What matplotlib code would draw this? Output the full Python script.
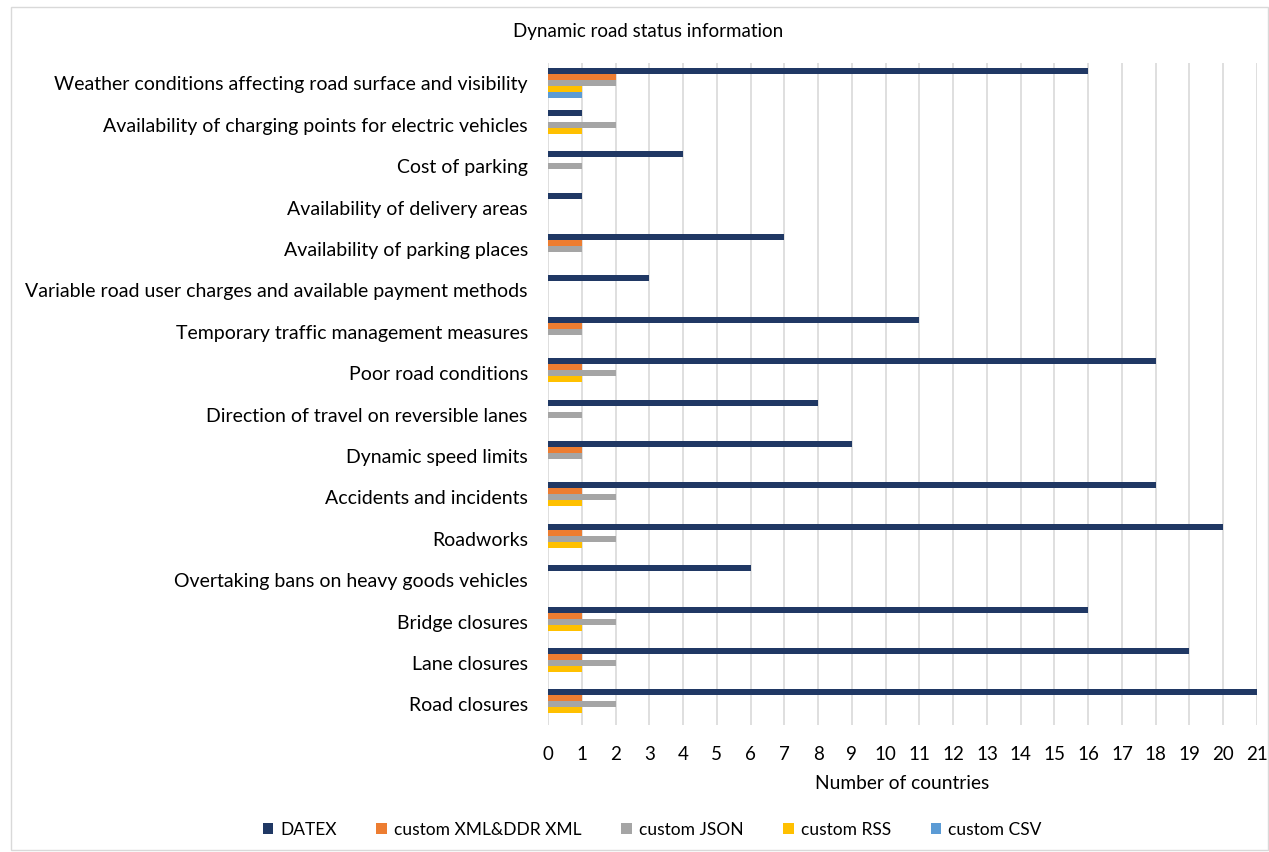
import numpy as np
import matplotlib
matplotlib.use("Agg")
import matplotlib.pyplot as plt
from matplotlib.patches import Rectangle

plt.rcParams['font.family'] = ['Lato', 'DejaVu Sans']

# categories, bottom to top as drawn
categories = [
    "Road closures",
    "Lane closures",
    "Bridge closures",
    "Overtaking bans on heavy goods vehicles",
    "Roadworks",
    "Accidents and incidents",
    "Dynamic speed limits",
    "Direction of travel on reversible lanes",
    "Poor road conditions",
    "Temporary traffic management measures",
    "Variable road user charges and available payment methods",
    "Availability of parking places",
    "Availability of delivery areas",
    "Cost of parking",
    "Availability of charging points for electric vehicles",
    "Weather conditions affecting road surface and visibility",
]

datex = [21, 19, 16, 6, 20, 18, 9, 8, 18, 11, 3, 7, 1, 4, 1, 16]
custom_xml = [1, 1, 1, 0, 1, 1, 1, 0, 1, 1, 0, 1, 0, 0, 0, 2]
custom_json = [2, 2, 2, 0, 2, 2, 1, 1, 2, 1, 0, 1, 0, 1, 2, 2]
custom_rss = [1, 1, 1, 0, 1, 1, 0, 0, 1, 0, 0, 0, 0, 0, 1, 1]
custom_csv = [0, 0, 0, 0, 0, 0, 0, 0, 0, 0, 0, 0, 0, 0, 0, 1]

series_names = ["DATEX", "custom XML&DDR XML", "custom JSON", "custom RSS", "custom CSV"]
series_values = [datex, custom_xml, custom_json, custom_rss, custom_csv]
colors = ["#203864", "#ED7D31", "#A5A5A5", "#FFC000", "#5B9BD5"]

W, H = 1269, 852
fig = plt.figure(figsize=(W / 100, H / 100), dpi=100)

# light chart-area border
fig.patches.append(Rectangle((11 / W, 2 / H), (W - 12) / W, (H - 9) / H,
                             transform=fig.transFigure, fill=False,
                             edgecolor="#D9D9D9", linewidth=1))

ax = fig.add_axes([548 / W, 1 - 725 / H, 709 / W, 662.3 / H])

y = np.arange(len(categories))
h = 0.145
for i, (name, vals, c) in enumerate(zip(series_names, series_values, colors)):
    offset = (2 - i) * h
    ax.barh(y + offset, vals, height=h, color=c, label=name, zorder=3)

ax.set_xlim(0, 21)
ax.set_ylim(-0.5, len(categories) - 0.5)
ax.set_xticks(range(0, 22))
ax.set_yticks(y)
ax.set_yticklabels(categories)
ax.tick_params(axis="both", length=0, colors="#000000")
ax.tick_params(axis="y", pad=14.5, labelsize=14)
ax.tick_params(axis="x", pad=15, labelsize=13.5)
ax.grid(axis="x", color="#D9D9D9", linewidth=1.2, zorder=0)
for s in ax.spines.values():
    s.set_visible(False)

ax.set_xlabel("Number of countries", fontsize=13.75, labelpad=9)

fig.text(648 / W, 1 - 32 / H, "Dynamic road status information",
         ha="center", va="center", fontsize=13.5)

fig.legend(loc="center", bbox_to_anchor=(652 / W, 1 - 830 / H), ncol=5,
           frameon=False, fontsize=12.5, handlelength=0.6, handleheight=0.6,
           handletextpad=0.4, columnspacing=2.3)

fig.savefig("out.png", dpi=100)
